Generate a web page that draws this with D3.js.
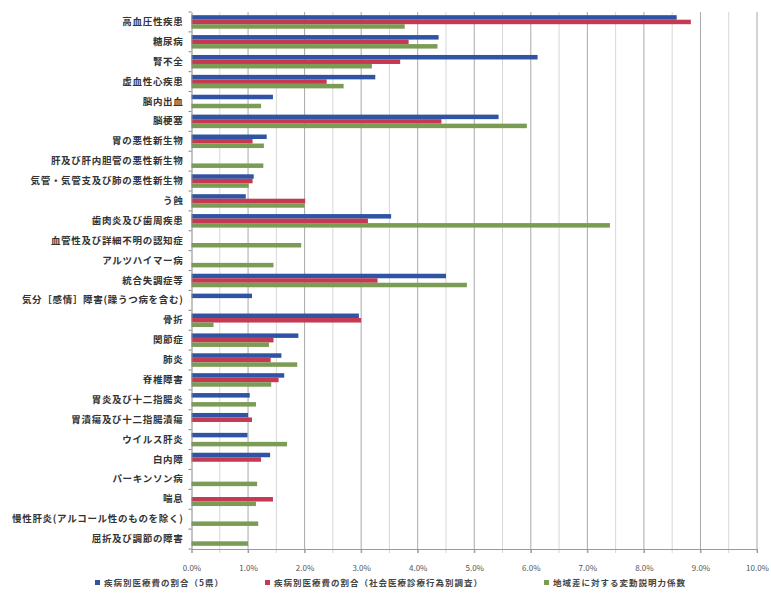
<!DOCTYPE html>
<html>
<head>
<meta charset="utf-8">
<script src="https://cdn.jsdelivr.net/npm/d3@7"></script>
<style>
  body { margin: 0; background: #fff; }
  svg text { font-family: "Noto Sans CJK JP", "Noto Sans", sans-serif; }
</style>
</head>
<body>
<svg id="chart"></svg>
<script>
var width = 771,
    height = 598;

var margin = { top: 12, right: 14, bottom: 49, left: 191.5 };

var categories = [
    '高血圧性疾患', '糖尿病', '腎不全', '虚血性心疾患', '脳内出血', '脳梗塞',
    '胃の悪性新生物', '肝及び肝内胆管の悪性新生物', '気管・気管支及び肺の悪性新生物',
    'う蝕', '歯肉炎及び歯周疾患', '血管性及び詳細不明の認知症', 'アルツハイマー病',
    '統合失調症等', '気分［感情］障害(躁うつ病を含む)', '骨折', '関節症', '肺炎',
    '脊椎障害', '胃炎及び十二指腸炎', '胃潰瘍及び十二指腸潰瘍', 'ウイルス肝炎',
    '白内障', 'パーキンソン病', '喘息', '慢性肝炎(アルコール性のものを除く)',
    '屈折及び調節の障害'
];

var seriesNames = [
    '疾病別医療費の割合（5県）',
    '疾病別医療費の割合（社会医療診療行為別調査）',
    '地域差に対する変動説明力係数'
];

// values in %
var share5 = [8.58, 4.37, 6.12, 3.25, 1.44, 5.43, 1.33, null, 1.10, 0.96, 3.53,
    null, null, 4.50, 1.07, 2.96, 1.89, 1.59, 1.64, 1.03, 1.00, 0.99, 1.39,
    null, null, null, null];
var shareSurvey = [8.83, 3.84, 3.69, 2.39, null, 4.42, 1.08, null, 1.08, 2.01, 3.12,
    null, null, 3.29, null, 3.00, 1.45, 1.40, 1.54, null, 1.07, null, 1.23,
    null, 1.44, null, null];
var coef = [3.77, 4.35, 3.19, 2.69, 1.23, 5.93, 1.28, 1.27, 1.01, 2.00, 7.40,
    1.94, 1.45, 4.87, null, 0.39, 1.37, 1.87, 1.41, 1.14, null, 1.69, null,
    1.16, 1.14, 1.18, 1.00];

var xTicks = [0, 1, 2, 3, 4, 5, 6, 7, 8, 9, 10];
var colors = ['#2f54a3', '#c53a52', '#7b9c55'];

var series = [share5, shareSurvey, coef];

var svg = d3.select('#chart')
    .attr('width', width)
    .attr('height', height);

var x = d3.scaleLinear()
    .domain([0, 10])
    .range([margin.left, width - margin.right]);

var y0 = d3.scaleBand()
    .domain(categories)
    .range([margin.top, height - margin.bottom])
    .paddingInner(0.32)
    .paddingOuter(0.16);

var y1 = d3.scaleBand()
    .domain([0, 1, 2])
    .range([0, y0.bandwidth()]);

var plotBottom = height - margin.bottom;

// gridlines (every 0.5%)
var grid = svg.append('g').attr('class', 'grid');
grid.selectAll('line')
    .data(d3.range(0.5, 10.01, 0.5))
    .enter().append('line')
    .attr('x1', function (d) { return x(d); })
    .attr('x2', function (d) { return x(d); })
    .attr('y1', margin.top)
    .attr('y2', plotBottom + 4)
    .style('stroke', function (d) { return d % 1 === 0 ? '#a8a8a8' : '#d6d6d6'; })
    .style('stroke-width', 1);

// bars
var groups = svg.append('g')
    .selectAll('g')
    .data(categories)
    .enter().append('g')
    .attr('transform', function (d) { return 'translate(0,' + y0(d) + ')'; });

groups.selectAll('rect')
    .data(function (d, i) {
        return series.map(function (s, k) { return { k: k, v: s[i] }; })
            .filter(function (e) { return e.v !== null; });
    })
    .enter().append('rect')
    .attr('x', x(0))
    .attr('y', function (d) { return y1(d.k); })
    .attr('width', function (d) { return x(d.v) - x(0); })
    .attr('height', y1.bandwidth())
    .style('fill', function (d) { return colors[d.k]; });

// left axis
var yAxis = d3.axisLeft(y0).tickSize(0).tickPadding(8);
var gy = svg.append('g')
    .attr('transform', 'translate(' + x(0) + ',0)')
    .call(yAxis);
gy.select('.domain').style('stroke', '#888');
gy.selectAll('text')
    .style('font-size', '9.5px')
    .style('font-weight', 'bold')
    .style('letter-spacing', '0.7px')
    .style('fill', '#333');

// small tick marks at category boundaries
svg.append('g').selectAll('line')
    .data(d3.range(categories.length + 1))
    .enter().append('line')
    .attr('x1', x(0) - 3)
    .attr('x2', x(0))
    .attr('y1', function (i) { return margin.top + i * y0.step(); })
    .attr('y2', function (i) { return margin.top + i * y0.step(); })
    .style('stroke', '#888');

// bottom axis
var xAxis = d3.axisBottom(x)
    .tickValues(xTicks)
    .tickSize(4)
    .tickPadding(12)
    .tickFormat(function (d) { return d.toFixed(1) + '%'; });
var gx = svg.append('g')
    .attr('transform', 'translate(0,' + plotBottom + ')')
    .call(xAxis);
gx.select('.domain').style('stroke', '#999');
gx.selectAll('line').style('stroke', '#999');
gx.selectAll('text')
    .style('font-size', '8px')
    .style('fill', '#555');

// legend
var legendX = [95, 265, 544];
var legend = svg.append('g')
    .selectAll('g')
    .data(seriesNames)
    .enter().append('g')
    .attr('transform', function (d, i) { return 'translate(' + legendX[i] + ',' + 583 + ')'; });

legend.append('rect')
    .attr('x', 0)
    .attr('y', -3)
    .attr('width', 5)
    .attr('height', 5)
    .style('fill', function (d, i) { return colors[i]; });

legend.append('text')
    .attr('x', 9)
    .attr('y', 0)
    .attr('dy', '0.35em')
    .style('font-size', '8.5px')
    .style('font-weight', 'bold')
    .style('letter-spacing', '1px')
    .style('fill', '#444')
    .text(function (d) { return d; });
</script>
</body>
</html>
